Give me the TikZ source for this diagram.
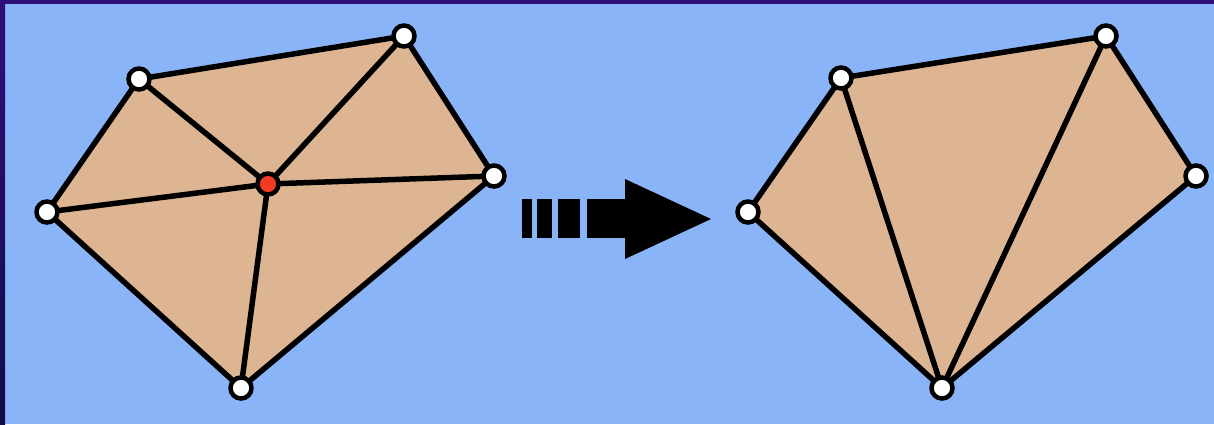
\documentclass[tikz,border=0pt]{standalone}
\usepackage{xcolor}
\usepackage{tikz}
\usetikzlibrary{arrows.meta,positioning,calc}
\definecolor{sky}{HTML}{8AB4F8}
\definecolor{frame}{HTML}{2E0E7A}
\definecolor{framedark}{HTML}{120C4A}
\definecolor{tan}{HTML}{DEB592}
\definecolor{hot}{HTML}{F23A24}
\tikzset{
  vtx/.style={circle,draw=black,fill=white,line width=0.09cm,minimum size=0.42cm,inner sep=0pt},
  edge/.style={line width=0.11cm,line join=round,line cap=round},
}
\newcommand{\meshnode}[3]{
  \node[vtx,fill=#3] (#1) at #2 {};
}

\begin{document}
\begin{tikzpicture}[x=0.02cm,y=-0.02cm,>=Latex]
  \useasboundingbox (0,0) rectangle (1214,424);
  \fill[sky] (0,0) rectangle (1214,424);
  \fill[frame] (0,0) rectangle (1214,4);
  \shade[top color=frame,bottom color=framedark] (0,0) rectangle (5,424);
  % left mesh, before removal
  \coordinate (a) at (139,79);
  \coordinate (b) at (404,36);
  \coordinate (c) at (494,176);
  \coordinate (d) at (241,388);
  \coordinate (e) at (47,212);
  \coordinate (f) at (268,184);
  \fill[tan] (a) -- (b) -- (c) -- (d) -- (e) -- cycle;
  \draw[edge] (a) -- (b) -- (c) -- (d) -- (e) -- cycle;
  \foreach \v in {a,b,c,d,e}
    \draw[edge] (f) -- (\v);
  \meshnode{A}{(a)}{white}
  \meshnode{B}{(b)}{white}
  \meshnode{C}{(c)}{white}
  \meshnode{D}{(d)}{white}
  \meshnode{E}{(e)}{white}
  \meshnode{F}{(f)}{hot}
  % arrow
  \fill (522,199) rectangle (532,238);
  \fill (537,199) rectangle (552,238);
  \fill (558,199) rectangle (580,238);
  \fill (587,199) rectangle (626,238);
  \fill (625,179) -- (711,219) -- (625,259) -- cycle;
  % right mesh, retriangulated
  \coordinate (a2) at (841,78);
  \coordinate (b2) at (1106,36);
  \coordinate (c2) at (1196,176);
  \coordinate (d2) at (942,388);
  \coordinate (e2) at (748,212);
  \fill[tan] (a2) -- (b2) -- (c2) -- (d2) -- (e2) -- cycle;
  \draw[edge] (a2) -- (b2) -- (c2) -- (d2) -- (e2) -- cycle;
  \draw[edge] (d2) -- (a2);
  \draw[edge] (d2) -- (b2);
  \meshnode{A2}{(a2)}{white}
  \meshnode{B2}{(b2)}{white}
  \meshnode{C2}{(c2)}{white}
  \meshnode{D2}{(d2)}{white}
  \meshnode{E2}{(e2)}{white}
\end{tikzpicture}
\end{document}
